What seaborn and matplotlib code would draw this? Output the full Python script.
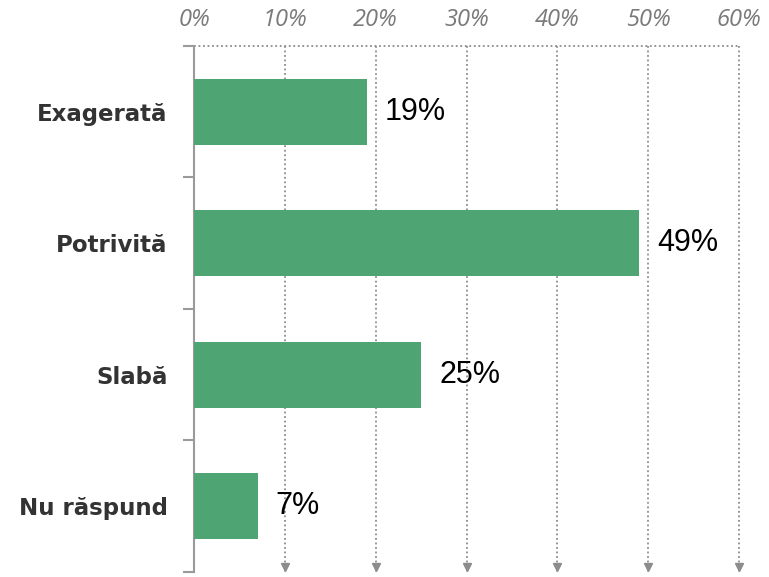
import numpy as np
import pandas as pd
import seaborn as sns
import matplotlib
matplotlib.use('Agg')
import matplotlib.pyplot as plt

sns.set_style('white')

# Data
categories = ["Exagerată", "Potrivită", "Slabă", "Nu răspund"]
values = [19, 49, 25, 7]
value_labels = ["19%", "49%", "25%", "7%"]
x_ticks = [0, 10, 20, 30, 40, 50, 60]
x_tick_labels = ["0%", "10%", "20%", "30%", "40%", "50%", "60%"]

df = pd.DataFrame({"cat": categories, "val": values})

fig = plt.figure(figsize=(7.69, 5.77), dpi=100)
ax = fig.add_axes([0.2523, 0.0087, 0.7087, 0.9116])

sns.barplot(data=df, x="val", y="cat", color="#4ea473", width=0.5,
            saturation=1, linewidth=0, ax=ax, zorder=3)

ax.set_xlim(0, 60)
ax.set_ylim(3.5, -0.5)
ax.set_xlabel("")
ax.set_ylabel("")

# x axis on top
ax.xaxis.tick_top()
ax.set_xticks(x_ticks)
ax.set_xticklabels(x_tick_labels, fontstyle='italic', color='#7a7a7a',
                   fontsize=17, family=['Open Sans', 'DejaVu Sans'])
ax.tick_params(axis='x', length=0, pad=10)

# dotted grid lines with arrow heads
for x in x_ticks[1:]:
    ax.plot([x, x], [-0.5, 3.5], ls=(0, (1, 1.5)), color='#8c8c8c', lw=1.3,
            zorder=1, clip_on=False)
    ax.plot([x], [3.46], marker='v', color='#8c8c8c', ms=6, clip_on=False,
            zorder=1)
ax.plot([0, 60], [-0.5, -0.5], ls=(0, (1, 1.5)), color='#8c8c8c', lw=1.3,
        zorder=1, clip_on=False)

for s in ['top', 'right', 'bottom']:
    ax.spines[s].set_visible(False)
ax.spines['left'].set_color('#9a9a9a')
ax.spines['left'].set_linewidth(1.5)

# y ticks at band boundaries, labels in the middle
ax.set_yticks([-0.5, 0.5, 1.5, 2.5, 3.5])
ax.set_yticklabels([])
ax.set_yticks(range(len(categories)), minor=True)
ax.set_yticklabels(categories, minor=True, fontweight='bold', fontsize=16.5,
                   color='#333333', family=['DejaVu Sans'])
ax.tick_params(axis='y', which='major', left=True, length=8, width=1.5,
               color='#9a9a9a')
ax.tick_params(axis='y', which='minor', left=False, length=0, pad=19)

for i, (v, lab) in enumerate(zip(values, value_labels)):
    ax.text(v + 2.0, i, lab, va='center', ha='left', fontsize=22,
            color='black', family=['Liberation Sans'])

fig.savefig("out.png", dpi=100)
